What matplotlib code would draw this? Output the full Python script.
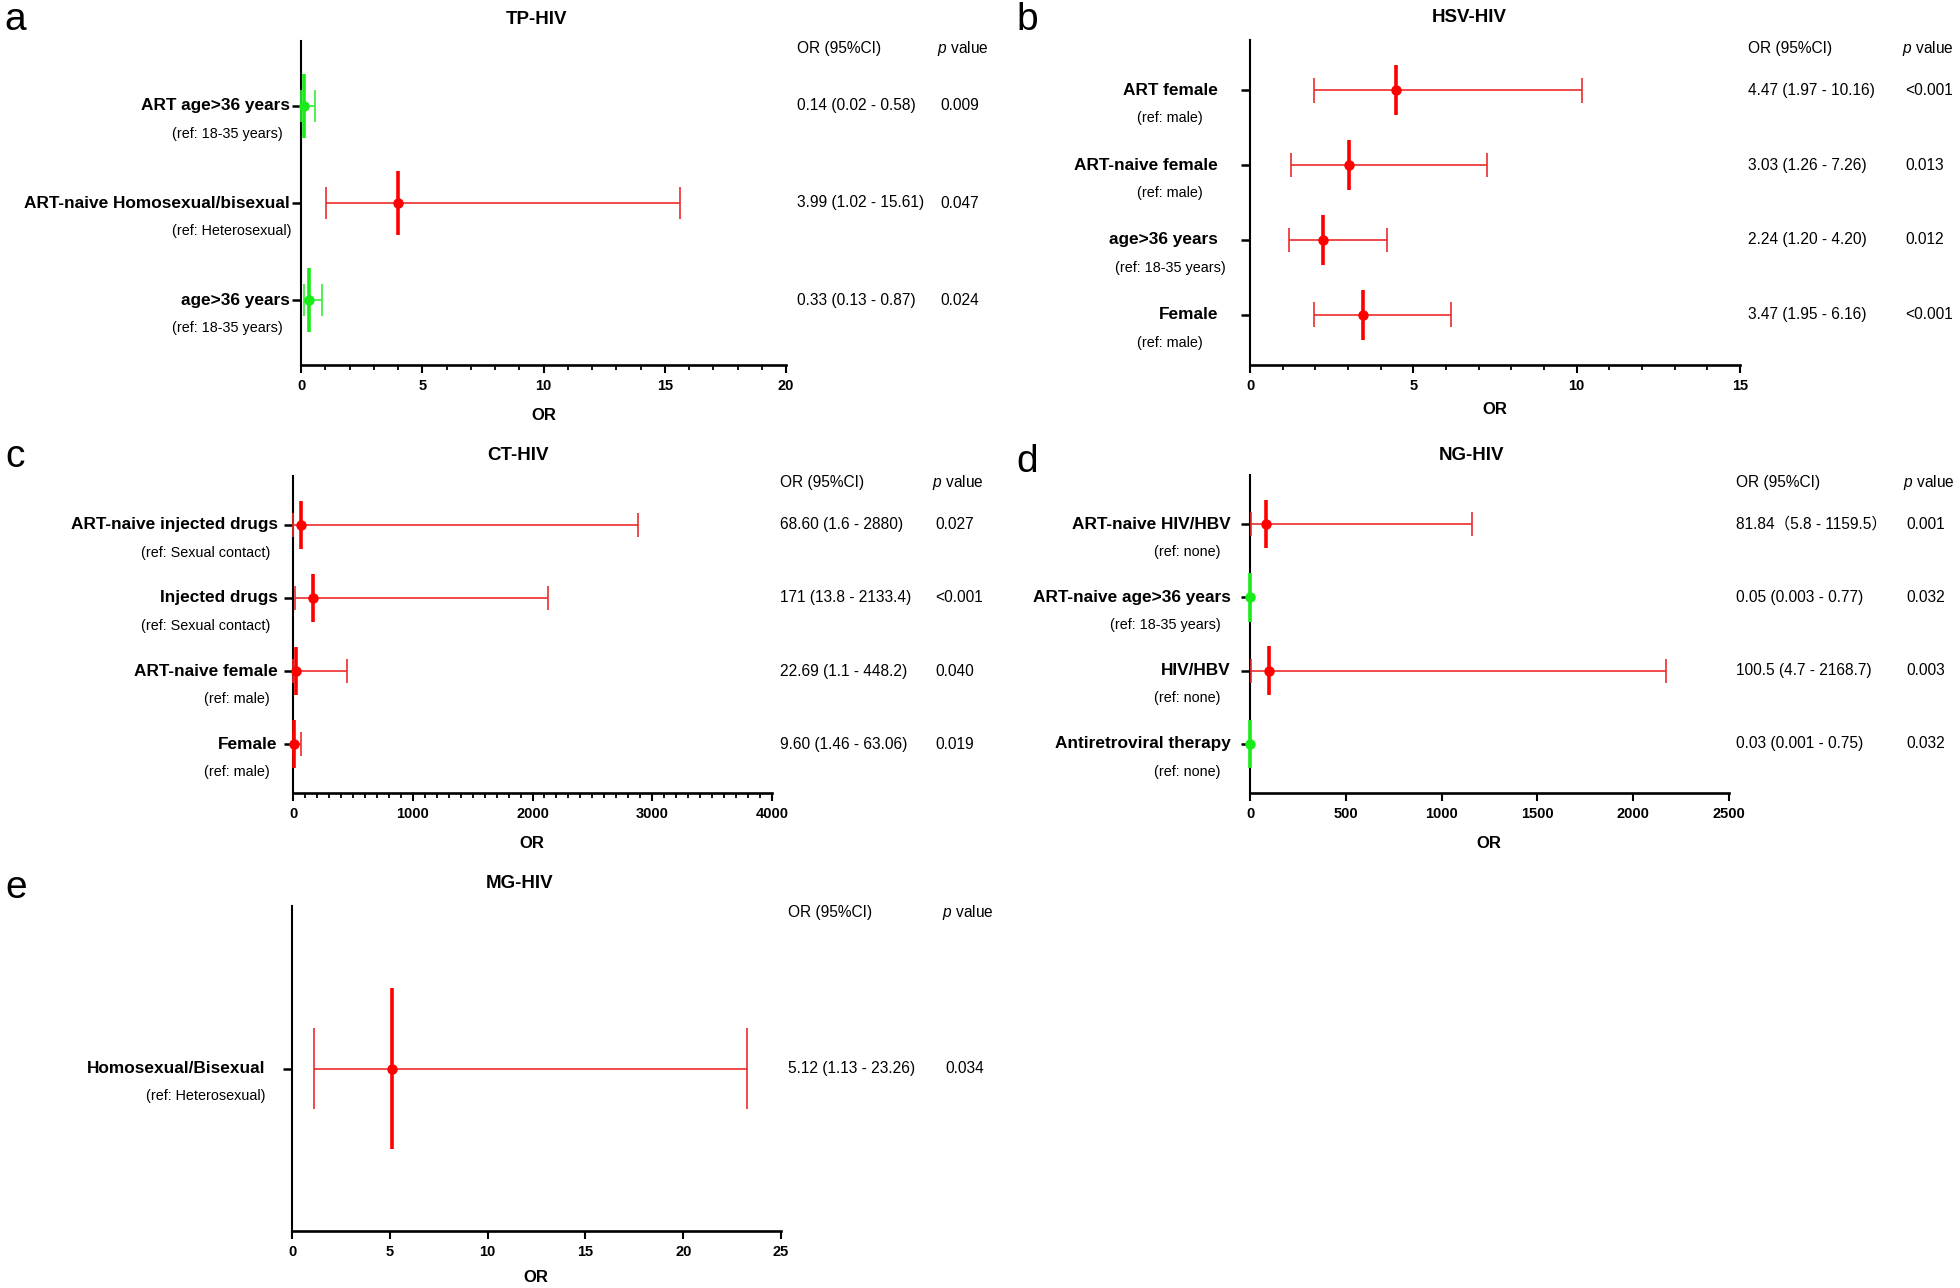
import matplotlib
matplotlib.use("Agg")
import matplotlib.pyplot as plt
import matplotlib.transforms as mtransforms
from matplotlib.ticker import MultipleLocator

plt.rcParams["font.family"] = ["Liberation Sans", "Noto Sans CJK SC"]
plt.rcParams["mathtext.fontset"] = "custom"
plt.rcParams["mathtext.rm"] = "Liberation Sans"
plt.rcParams["mathtext.it"] = "Liberation Sans:italic"

# --------- DATA ---------
tp_labels = ["ART age>36 years", "ART-naive Homosexual/bisexual", "age>36 years"]
tp_refs = ["(ref: 18-35 years)", "(ref: Heterosexual)", "(ref: 18-35 years)"]
tp_or = [0.14, 3.99, 0.33]
tp_lo = [0.02, 1.02, 0.13]
tp_hi = [0.58, 15.61, 0.87]
tp_ci_text = ["0.14 (0.02 - 0.58)", "3.99 (1.02 - 15.61)", "0.33 (0.13 - 0.87)"]
tp_p = ["0.009", "0.047", "0.024"]

hsv_labels = ["ART female", "ART-naive female", "age>36 years", "Female"]
hsv_refs = ["(ref: male)", "(ref: male)", "(ref: 18-35 years)", "(ref: male)"]
hsv_or = [4.47, 3.03, 2.24, 3.47]
hsv_lo = [1.97, 1.26, 1.20, 1.95]
hsv_hi = [10.16, 7.26, 4.20, 6.16]
hsv_ci_text = ["4.47 (1.97 - 10.16)", "3.03 (1.26 - 7.26)", "2.24 (1.20 - 4.20)", "3.47 (1.95 - 6.16)"]
hsv_p = ["<0.001", "0.013", "0.012", "<0.001"]

ct_labels = ["ART-naive injected drugs", "Injected drugs", "ART-naive female", "Female"]
ct_refs = ["(ref: Sexual contact)", "(ref: Sexual contact)", "(ref: male)", "(ref: male)"]
ct_or = [68.60, 171, 22.69, 9.60]
ct_lo = [1.6, 13.8, 1.1, 1.46]
ct_hi = [2880, 2133.4, 448.2, 63.06]
ct_ci_text = ["68.60 (1.6 - 2880)", "171 (13.8 - 2133.4)", "22.69 (1.1 - 448.2)", "9.60 (1.46 - 63.06)"]
ct_p = ["0.027", "<0.001", "0.040", "0.019"]

ng_labels = ["ART-naive HIV/HBV", "ART-naive age>36 years", "HIV/HBV", "Antiretroviral therapy"]
ng_refs = ["(ref: none)", "(ref: 18-35 years)", "(ref: none)", "(ref: none)"]
ng_or = [81.84, 0.05, 100.5, 0.03]
ng_lo = [5.8, 0.003, 4.7, 0.001]
ng_hi = [1159.5, 0.77, 2168.7, 0.75]
ng_ci_text = ["81.84（5.8 - 1159.5）", "0.05 (0.003 - 0.77)", "100.5 (4.7 - 2168.7)", "0.03 (0.001 - 0.75)"]
ng_p = ["0.001", "0.032", "0.003", "0.032"]

mg_labels = ["Homosexual/Bisexual"]
mg_refs = ["(ref: Heterosexual)"]
mg_or = [5.12]
mg_lo = [1.13]
mg_hi = [23.26]
mg_ci_text = ["5.12 (1.13 - 23.26)"]
mg_p = ["0.034"]

# --------- LAYOUT (pixels in a 1960x1288 canvas) ---------
W, H = 1960, 1288
RED = "#ff0000"
RED_CI = "#ec2b2b"
GREEN = "#1aec1a"
GREEN_CI = "#33ee33"
TABLE_FS = 11.2

panels = [
    dict(letter="a", title="TP-HIV", labels=tp_labels, refs=tp_refs, orv=tp_or, lo=tp_lo, hi=tp_hi,
         ci=tp_ci_text, p=tp_p, box=(301, 786, 41, 365), xmax=20, major=5, minor=1,
         title_xy=(536, 20), xlab_xy=(544, 415), letter_xy=(15, 20), head_y=48,
         col_or=797, col_p=937, lab_pad=8, ref_x=172, ref_ha="left"),
    dict(letter="b", title="HSV-HIV", labels=hsv_labels, refs=hsv_refs, orv=hsv_or, lo=hsv_lo, hi=hsv_hi,
         ci=hsv_ci_text, p=hsv_p, box=(1250, 1740, 40, 365), xmax=15, major=5, minor=1,
         title_xy=(1469, 18), xlab_xy=(1495, 410), letter_xy=(1027, 20), head_y=48,
         col_or=1748, col_p=1902, lab_pad=23, ref_x=1170, ref_ha="center"),
    dict(letter="c", title="CT-HIV", labels=ct_labels, refs=ct_refs, orv=ct_or, lo=ct_lo, hi=ct_hi,
         ci=ct_ci_text, p=ct_p, box=(293, 772, 476, 793), xmax=4000, major=1000, minor=100,
         title_xy=(518, 455), xlab_xy=(532, 843), letter_xy=(15, 457), head_y=483,
         col_or=780, col_p=932, lab_pad=11, ref_x=270, ref_ha="right"),
    dict(letter="d", title="NG-HIV", labels=ng_labels, refs=ng_refs, orv=ng_or, lo=ng_lo, hi=ng_hi,
         ci=ng_ci_text, p=ng_p, box=(1250, 1729, 475, 793), xmax=2500, major=500, minor=None,
         title_xy=(1471, 455), xlab_xy=(1489, 843), letter_xy=(1027, 462), head_y=483,
         col_or=1736, col_p=1903, lab_pad=14, ref_x=1221, ref_ha="right"),
    dict(letter="e", title="MG-HIV", labels=mg_labels, refs=mg_refs, orv=mg_or, lo=mg_lo, hi=mg_hi,
         ci=mg_ci_text, p=mg_p, box=(292, 781, 906, 1231), xmax=25, major=5, minor=None,
         title_xy=(520, 883), xlab_xy=(536, 1277), letter_xy=(16, 888), head_y=913,
         col_or=788, col_p=942, lab_pad=19, ref_x=266, ref_ha="right"),
]


def fx(x):
    return x / W


def fy(y):
    return 1 - y / H


def draw_panel(fig, cfg):
    x0, x1, ytop, ybot = cfg["box"]
    ax = fig.add_axes([fx(x0), fy(ybot), (x1 - x0) / W, (ybot - ytop) / H])
    n = len(cfg["labels"])
    ys = list(range(n, 0, -1))

    for y, o, lo, hi in zip(ys, cfg["orv"], cfg["lo"], cfg["hi"]):
        dot_c, ci_c = (GREEN, GREEN_CI) if o < 1 else (RED, RED_CI)
        ax.hlines(y, lo, hi, color=ci_c, lw=1.2, zorder=3, clip_on=False)
        ax.vlines([lo, hi], y - 0.165, y + 0.165, color=ci_c, lw=1.2, zorder=3, clip_on=False)
        ax.vlines(o, y - 0.33, y + 0.33, color=dot_c, lw=2.6, zorder=4, clip_on=False)
        ax.plot(o, y, "o", color=dot_c, ms=6.5, zorder=5, clip_on=False)

    ax.set_xlim(0, cfg["xmax"])
    ax.set_ylim(0.33, n + 0.67)
    for s in ("top", "right"):
        ax.spines[s].set_visible(False)
    ax.spines["left"].set_linewidth(1.5)
    ax.spines["bottom"].set_linewidth(1.9)

    ax.xaxis.set_major_locator(MultipleLocator(cfg["major"]))
    if cfg["minor"]:
        ax.xaxis.set_minor_locator(MultipleLocator(cfg["minor"]))
    ax.tick_params(axis="x", which="major", length=6, width=1.5, pad=4, labelsize=10.5)
    ax.tick_params(axis="x", which="minor", length=3.5, width=1.3)
    for t in ax.get_xticklabels():
        t.set_fontweight("bold")

    ax.set_yticks(ys)
    ax.set_yticklabels([""] * n)
    ax.tick_params(axis="y", length=6.5, width=1.8)

    # row labels and reference categories
    ref_tr = mtransforms.blended_transform_factory(fig.transFigure, ax.transData)
    for y, lab, ref in zip(ys, cfg["labels"], cfg["refs"]):
        ax.annotate(lab, xy=(0, y), xycoords=("axes fraction", "data"),
                    xytext=(-cfg["lab_pad"], 0), textcoords="offset points",
                    ha="right", va="center", fontsize=12.4, fontweight="bold")
        ax.annotate(ref, xy=(fx(cfg["ref_x"]), y), xycoords=ref_tr,
                    xytext=(0, -20), textcoords="offset points",
                    ha=cfg["ref_ha"], va="center", fontsize=10.4, annotation_clip=False)

    # OR / p value table on the right
    fig.text(fx(cfg["col_or"]), fy(cfg["head_y"]), "OR (95%CI)", fontsize=TABLE_FS, va="center")
    fig.text(fx(cfg["col_p"]), fy(cfg["head_y"]), "$p$ value", fontsize=TABLE_FS, va="center")
    for y, ci, p in zip(ys, cfg["ci"], cfg["p"]):
        ax.text(fx(cfg["col_or"]), y, ci, transform=ref_tr, fontsize=TABLE_FS, va="center")
        ax.text(fx(cfg["col_p"] + 3), y, p, transform=ref_tr, fontsize=TABLE_FS, va="center")

    fig.text(fx(cfg["title_xy"][0]), fy(cfg["title_xy"][1]), cfg["title"],
             ha="center", va="center", fontsize=13.5, fontweight="bold")
    fig.text(fx(cfg["xlab_xy"][0]), fy(cfg["xlab_xy"][1]), "OR",
             ha="center", va="center", fontsize=12, fontweight="bold")
    fig.text(fx(cfg["letter_xy"][0]), fy(cfg["letter_xy"][1]), cfg["letter"],
             ha="center", va="center", fontsize=28)
    return ax


def main():
    fig = plt.figure(figsize=(W / 100, H / 100), dpi=100)
    for cfg in panels:
        draw_panel(fig, cfg)
    fig.savefig("out.png", dpi=100, facecolor="white")
    plt.close(fig)


if __name__ == "__main__":
    main()
